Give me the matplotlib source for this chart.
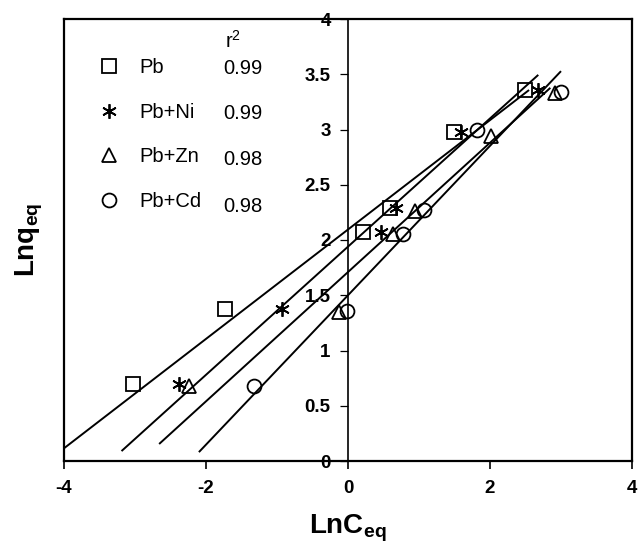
import matplotlib
matplotlib.use('Agg')
import matplotlib.pyplot as plt
import numpy as np
from matplotlib.ticker import FixedLocator, FuncFormatter

plt.rcParams['font.family'] = ['Liberation Sans', 'DejaVu Sans']
plt.rcParams['axes.unicode_minus'] = False
plt.rcParams['mathtext.fontset'] = 'custom'
plt.rcParams['mathtext.it'] = 'Liberation Sans:bold'
plt.rcParams['mathtext.rm'] = 'Liberation Sans:bold'
plt.rcParams['mathtext.bf'] = 'Liberation Sans:bold'

# ---- data ----
series_names = ['Pb', 'Pb+Ni', 'Pb+Zn', 'Pb+Cd']
r2_values = ['0.99', '0.99', '0.98', '0.98']

pb_x = [-3.03, -1.73, 0.21, 0.59, 1.49, 2.49]
pb_y = [0.70, 1.38, 2.07, 2.29, 2.98, 3.36]
ni_x = [-2.38, -0.93, 0.46, 0.67, 1.59, 2.67]
ni_y = [0.70, 1.38, 2.07, 2.29, 2.98, 3.36]
zn_x = [-2.24, -0.12, 0.63, 0.94, 2.01, 2.92]
zn_y = [0.68, 1.35, 2.05, 2.26, 2.94, 3.33]
cd_x = [-1.32, -0.02, 0.77, 1.07, 1.82, 3.00]
cd_y = [0.68, 1.36, 2.05, 2.27, 3.00, 3.34]

# linear trend lines (slope, intercept, x extent)
line_slopes = [0.495, 0.580, 0.585, 0.676]
line_intercepts = [2.095, 1.940, 1.710, 1.500]
line_x_start = [-4.00, -3.19, -2.66, -2.10]
line_x_end = [2.55, 2.68, 2.85, 3.00]

x_ticks = [-4, -2, 0, 2, 4]
y_ticks = [0, 0.5, 1, 1.5, 2, 2.5, 3, 3.5, 4]

# ---- figure ----
fig = plt.figure(figsize=(6.38, 5.48), dpi=100)
ax = fig.add_axes([64 / 638, 1 - 461 / 548, 568 / 638, 442 / 548])

xs_all = [pb_x, ni_x, zn_x, cd_x]
ys_all = [pb_y, ni_y, zn_y, cd_y]
markers = ['s', (6, 2, 0), '^', 'o']
msizes = [10, 10.5, 10, 10]

for k in range(4):
    lx = np.array([line_x_start[k], line_x_end[k]])
    ax.plot(lx, line_slopes[k] * lx + line_intercepts[k], color='black', lw=1.4,
            solid_capstyle='butt', zorder=2)

for k in range(4):
    ax.plot(xs_all[k], ys_all[k], linestyle='none', marker=markers[k], ms=msizes[k],
            mfc='none', mec='black', mew=1.3, label=series_names[k], zorder=3)

ax.set_xlim(-4, 4)
ax.set_ylim(0, 4)

# spines: y-axis through x = 0, plus a box frame
ax.spines['left'].set_position(('data', 0))
ax.spines['left'].set_linewidth(1.2)
for s in ['top', 'right', 'bottom']:
    ax.spines[s].set_linewidth(1.6)
ax.plot([0, 0], [0, 1], transform=ax.transAxes, color='black', lw=1.6,
        clip_on=False, solid_capstyle='projecting', zorder=4)

ax.xaxis.set_major_locator(FixedLocator(x_ticks))
ax.yaxis.set_major_locator(FixedLocator(y_ticks))
ax.xaxis.set_major_formatter(FuncFormatter(lambda v, p: '%g' % v))
ax.yaxis.set_major_formatter(FuncFormatter(lambda v, p: '%g' % v))
ax.tick_params(axis='x', direction='out', length=6, width=1.2, pad=8,
               labelsize=13.5, top=False)
ax.tick_params(axis='y', direction='out', length=6, width=0.9, pad=6.5,
               labelsize=13.5, right=False)
for lab in ax.get_xticklabels() + ax.get_yticklabels():
    lab.set_fontweight('bold')

ax.set_xlabel(r'LnC$_{eq}$', fontsize=20, fontweight='bold', labelpad=11)
ax.set_ylabel(r'Lnq$_{eq}$', fontsize=20, fontweight='bold')
ax.yaxis.set_label_coords(-0.034, 0.5)

leg = ax.legend(loc='upper left', bbox_to_anchor=(0.0616, 0.911), frameon=False,
                fontsize=14.5, handlelength=1.0, handletextpad=1.0,
                labelspacing=1.27, borderaxespad=0, borderpad=0)

r2_y = [0.887, 0.787, 0.681, 0.575]
for v, yy in zip(r2_values, r2_y):
    ax.text(0.280, yy, v, transform=ax.transAxes, fontsize=14.5, va='center', ha='left')
ax.text(0.283, 0.950, r'r$^{\mathregular{2}}$', transform=ax.transAxes, fontsize=14.5,
        va='center', ha='left')

fig.savefig('out.png', dpi=100)
